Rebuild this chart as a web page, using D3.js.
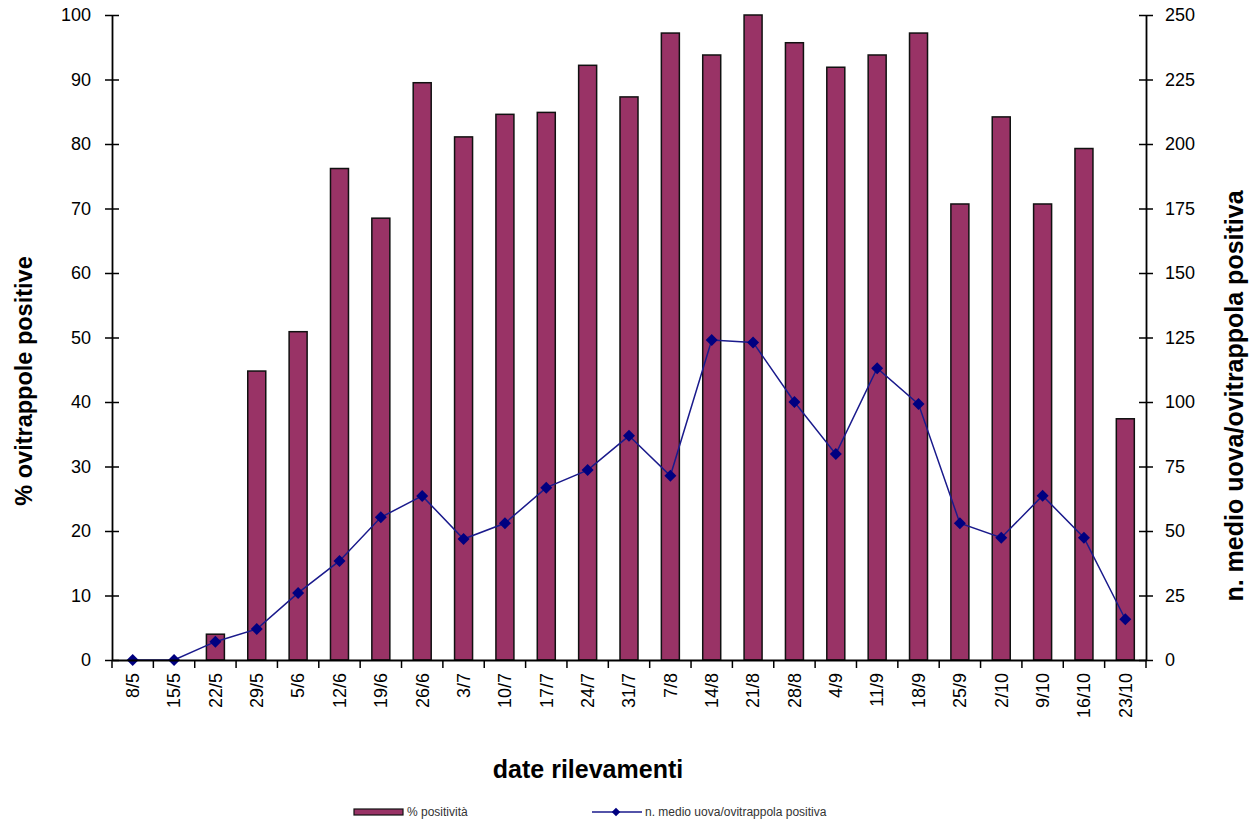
<!DOCTYPE html>
<html>
<head>
<meta charset="utf-8">
<script src="https://cdn.jsdelivr.net/npm/d3@7"></script>
<style>
  html, body { margin: 0; padding: 0; background: #fff; }
  svg { display: block; font-family: "Liberation Sans", Arial, sans-serif; }
</style>
</head>
<body>
<svg id="chart" width="1251" height="825"></svg>
<script>
// Survey dates (day/month)
const dates = ["8/5","15/5","22/5","29/5","5/6","12/6","19/6","26/6","3/7","10/7","17/7","24/7","31/7",
               "7/8","14/8","21/8","28/8","4/9","11/9","18/9","25/9","2/10","9/10","16/10","23/10"];
// % of positive ovitraps
const positivity = [0, 0, 4, 44.8, 50.9, 76.2, 68.5, 89.5, 81.1, 84.6, 84.9, 92.2, 87.3,
                    97.2, 93.8, 100, 95.7, 91.9, 93.8, 97.2, 70.7, 84.2, 70.7, 79.3, 37.4];
// mean eggs per positive ovitrap
const meanEggs = [0, 0, 7.1, 12, 26, 38.4, 55.3, 63.6, 46.9, 53, 66.8, 73.6, 86.9,
                  71.4, 124, 123.1, 100, 79.8, 113.1, 99.2, 53, 47.4, 63.7, 47.4, 15.8];
const leftTicks = [0, 10, 20, 30, 40, 50, 60, 70, 80, 90, 100];
const rightTicks = [0, 25, 50, 75, 100, 125, 150, 175, 200, 225, 250];

const svg = d3.select("#chart");
const plotLeft = 112, plotRight = 1146, plotTop = 15, plotBottom = 660;

const x = d3.scaleBand().domain(dates).range([plotLeft, plotRight]).paddingInner(0).paddingOuter(0);
const yL = d3.scaleLinear().domain([0, 100]).range([plotBottom, plotTop]);
const yR = d3.scaleLinear().domain([0, 250]).range([plotBottom, plotTop]);

const barW = 18;

// bars
svg.append("g").selectAll("rect").data(dates).join("rect")
  .attr("x", (d) => x(d) + x.bandwidth() / 2 - barW / 2)
  .attr("y", (d, i) => yL(positivity[i]))
  .attr("width", barW)
  .attr("height", (d, i) => plotBottom - yL(positivity[i]))
  .attr("fill", "#993366")
  .attr("stroke", "#111")
  .attr("stroke-width", 1.5);

// line + diamond markers
const line = d3.line()
  .x((d, i) => x(dates[i]) + x.bandwidth() / 2)
  .y((d) => yR(d));
svg.append("path").datum(meanEggs)
  .attr("d", line)
  .attr("fill", "none")
  .attr("stroke", "#1a1a8c")
  .attr("stroke-width", 1.5);
// square turned 45 degrees: equal width and height
const diamond = d3.symbol().type(d3.symbolSquare).size(72);
svg.append("g").selectAll("path").data(meanEggs).join("path")
  .attr("d", diamond)
  .attr("transform", (d, i) => `translate(${x(dates[i]) + x.bandwidth() / 2},${yR(d)}) rotate(45)`)
  .attr("fill", "#000080");

// left axis
const gL = svg.append("g").attr("transform", `translate(${plotLeft},0)`)
  .call(d3.axisLeft(yL).tickValues(leftTicks).tickSize(7).tickSizeOuter(0).tickPadding(14));
gL.selectAll(".tick line").attr("x2", 7).attr("x1", -7);
// right axis
const gR = svg.append("g").attr("transform", `translate(${plotRight},0)`)
  .call(d3.axisRight(yR).tickValues(rightTicks).tickSize(7).tickSizeOuter(0).tickPadding(12));
gR.selectAll(".tick line").attr("x1", -7).attr("x2", 7);

// bottom axis: ticks between categories
const gB = svg.append("g").attr("transform", `translate(0,${plotBottom})`)
  .call(d3.axisBottom(x).tickSize(0).tickSizeOuter(0).tickPadding(0));
gB.selectAll(".tick text")
  .attr("transform", "rotate(-90)")
  .attr("text-anchor", "end")
  .attr("x", -13)
  .attr("y", 0)
  .attr("dy", "0.35em");
gB.append("g").selectAll("line").data(dates.concat(["end"])).join("line")
  .attr("x1", (d, i) => plotLeft + i * x.bandwidth())
  .attr("x2", (d, i) => plotLeft + i * x.bandwidth())
  .attr("y1", 0).attr("y2", 8)
  .attr("stroke", "#000").attr("stroke-width", 1.5);

[gL, gR, gB].forEach((g) => {
  g.selectAll(".domain").attr("stroke", "#000").attr("stroke-width", 1.8);
  g.selectAll(".tick line").attr("stroke", "#000").attr("stroke-width", 1.5);
  g.selectAll(".tick text").attr("fill", "#000").attr("font-size", 18)
    .attr("font-family", "'Liberation Sans', Arial, sans-serif");
});

// axis titles
svg.append("text")
  .attr("transform", "translate(32,381) rotate(-90)")
  .attr("text-anchor", "middle")
  .attr("font-size", 23.5).attr("font-weight", "bold")
  .text("% ovitrappole positive");
svg.append("text")
  .attr("transform", "translate(1243,396) rotate(-90)")
  .attr("text-anchor", "middle")
  .attr("font-size", 25).attr("font-weight", "bold")
  .text("n. medio uova/ovitrappola positiva");
svg.append("text")
  .attr("x", 588).attr("y", 778)
  .attr("text-anchor", "middle")
  .attr("font-size", 25).attr("font-weight", "bold")
  .text("date rilevamenti");

// legend
const leg = svg.append("g").attr("font-size", 12);
leg.append("rect").attr("x", 354).attr("y", 809).attr("width", 49).attr("height", 6)
  .attr("fill", "#993366").attr("stroke", "#111").attr("stroke-width", 1.2);
leg.append("text").attr("x", 407).attr("y", 816).attr("fill", "#333").text("% positività");
leg.append("line").attr("x1", 592).attr("x2", 642).attr("y1", 812).attr("y2", 812)
  .attr("stroke", "#1a1a8c").attr("stroke-width", 1.5);
leg.append("path").attr("d", d3.symbol().type(d3.symbolSquare).size(36))
  .attr("transform", "translate(616,812) rotate(45)").attr("fill", "#000080");
leg.append("text").attr("x", 645).attr("y", 816).attr("fill", "#333").text("n. medio uova/ovitrappola positiva");
</script>
</body>
</html>
